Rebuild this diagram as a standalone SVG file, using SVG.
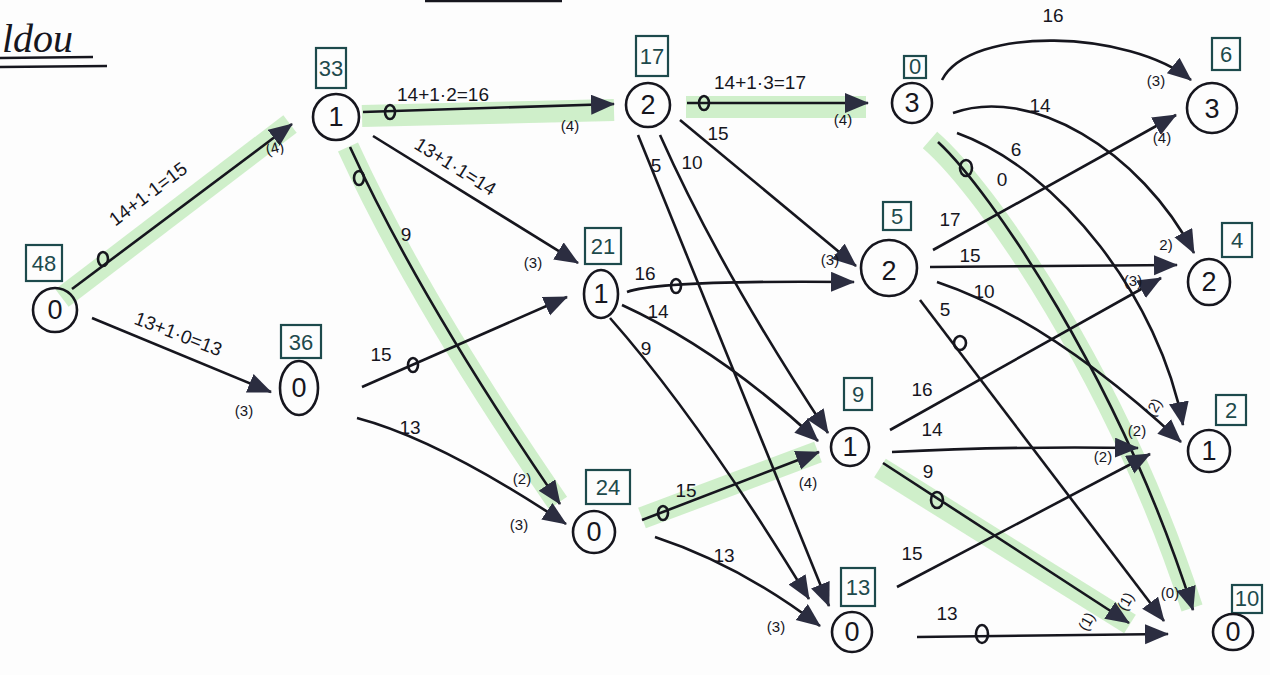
<svg xmlns="http://www.w3.org/2000/svg" width="1270" height="675" viewBox="0 0 1270 675">
<defs>
<marker id="ah" markerUnits="userSpaceOnUse" markerWidth="26" markerHeight="22" refX="23" refY="10" orient="auto">
<path d="M0,0 L24,10 L0,20 Z" fill="#2b2d40"/>
</marker>
<style>
.hl{fill:none;stroke:#bfeab8;stroke-width:22;opacity:0.75;stroke-linecap:butt}
.e{fill:none;stroke:#16161e;stroke-width:2.6;marker-end:url(#ah)}
.tk{fill:none;stroke:#16161e;stroke-width:2.6}
.nc{fill:none;stroke:#16161e;stroke-width:2.6}
.nt{font-family:"Liberation Sans",Arial,sans-serif;font-size:27px;fill:#16161e;text-anchor:middle}
.bx{fill:none;stroke:#1d4a4c;stroke-width:2.2}
.bt{font-family:"Liberation Sans",Arial,sans-serif;font-size:22px;fill:#1d4a4c;text-anchor:middle}
.lb{font-family:"Liberation Sans",Arial,sans-serif;font-size:19px;fill:#16161e;text-anchor:middle}
.sm{font-family:"Liberation Sans",Arial,sans-serif;font-size:15px;fill:#16161e;text-anchor:middle}
</style>
</defs>
<rect width="1270" height="675" fill="#fdfdfd"/>
<text x="2" y="52" font-family="Liberation Serif,serif" font-style="italic" font-size="40" fill="#16161e">ldou</text>
<line x1="0" y1="58" x2="93" y2="57" stroke="#16161e" stroke-width="2.6"/>
<line x1="0" y1="67" x2="107" y2="66" stroke="#16161e" stroke-width="2.6"/>
<line x1="425" y1="1" x2="562" y2="1" stroke="#16161e" stroke-width="2.6"/>

<g id="highlights">
<path class="hl" d="M62,298 L290,124"/>
<path class="hl" d="M362,116 L614,110"/>
<path class="hl" d="M348,147 Q418,300 558,503"/>
<path class="hl" d="M686,107 L866,107"/>
<path class="hl" d="M642,518 L818,452"/>
<path class="hl" d="M930,140 C988,190 1118,380 1192,608"/>
<path class="hl" d="M880,468 L1130,624"/>
</g>

<g id="connectors">
<!-- A->B -->
<path class="e" d="M72,289 L292,124"/>
<ellipse class="tk" cx="103" cy="259" rx="5" ry="7"/>
<text class="lb" transform="translate(152,199) rotate(-37)">14+1·1=15</text>
<text class="sm" transform="translate(276,153) rotate(-15)">(4)</text>
<!-- A->C -->
<path class="e" d="M92,318 L271,392"/>
<text class="lb" transform="translate(176,340) rotate(21)">13+1·0=13</text>
<text class="sm" x="244" y="416">(3)</text>
<!-- B->D -->
<path class="e" d="M363,112 L614,104"/>
<ellipse class="tk" cx="390" cy="112" rx="5" ry="7"/>
<text class="lb" x="443" y="101">14+1·2=16</text>
<text class="sm" x="570" y="131">(4)</text>
<!-- B->E -->
<path class="e" d="M373,136 L578,263"/>
<text class="lb" transform="translate(452,172) rotate(32)">13+1·1=14</text>
<text class="sm" x="533" y="268">(3)</text>
<!-- B->F -->
<path class="e" d="M350,147 Q420,300 560,504"/>
<ellipse class="tk" cx="359" cy="178" rx="5" ry="7"/>
<text class="lb" x="406" y="241">9</text>
<text class="sm" x="522" y="484">(2)</text>
<!-- C->E -->
<path class="e" d="M362,387 L567,297"/>
<ellipse class="tk" cx="413" cy="365" rx="5" ry="7"/>
<text class="lb" x="381" y="361">15</text>
<!-- C->F -->
<path class="e" d="M357,418 Q440,440 566,524"/>
<text class="lb" x="410" y="434">13</text>
<text class="sm" x="519" y="530">(3)</text>
<!-- D->G -->
<path class="e" d="M687,103 L868,103"/>
<ellipse class="tk" cx="704" cy="103" rx="5" ry="7"/>
<text class="lb" x="760" y="89">14+1·3=17</text>
<text class="sm" x="843" y="125">(4)</text>
<!-- D->H -->
<path class="e" d="M680,120 L856,266"/>
<text class="lb" x="718" y="140">15</text>
<text class="sm" x="830" y="265">(3)</text>
<!-- D->I -->
<path class="e" d="M660,135 Q720,270 828,433"/>
<text class="lb" x="692" y="169">10</text>
<!-- D->J -->
<path class="e" d="M638,135 L829,606"/>
<text class="lb" x="656" y="172">5</text>
<!-- E->H -->
<path class="e" d="M627,292 Q660,280 854,282"/>
<ellipse class="tk" cx="676" cy="286" rx="5" ry="7"/>
<text class="lb" x="645" y="280">16</text>
<!-- E->I -->
<path class="e" d="M622,305 Q720,350 818,441"/>
<text class="lb" x="658" y="318">14</text>
<!-- E->J -->
<path class="e" d="M610,318 Q700,420 809,599"/>
<text class="lb" x="646" y="355">9</text>
<!-- F->I -->
<path class="e" d="M642,520 L819,452"/>
<ellipse class="tk" cx="663" cy="513" rx="5" ry="7"/>
<text class="lb" x="686" y="497">15</text>
<text class="sm" x="808" y="488">(4)</text>
<!-- F->J -->
<path class="e" d="M655,537 Q740,565 820,626"/>
<text class="lb" x="724" y="562">13</text>
<text class="sm" x="776" y="632">(3)</text>
<!-- G->K -->
<path class="e" d="M942,80 C970,25 1130,30 1191,80"/>
<text class="lb" x="1053" y="22">16</text>
<text class="sm" x="1156" y="86">(3)</text>
<!-- G->L -->
<path class="e" d="M953,113 C1030,85 1140,150 1194,253"/>
<text class="lb" x="1040" y="112">14</text>
<text class="sm" x="1166" y="250">2)</text>
<!-- G->M -->
<path class="e" d="M957,133 C1060,170 1160,300 1183,425"/>
<text class="lb" x="1016" y="156">6</text>
<text class="sm" transform="translate(1158,410) rotate(-60)">(2)</text>
<!-- G->N -->
<path class="e" d="M938,142 C990,190 1120,380 1193,610"/>
<ellipse class="tk" cx="966" cy="168" rx="6" ry="8"/>
<text class="lb" x="1002" y="186">0</text>
<text class="sm" x="1170" y="598">(0)</text>
<!-- H->K -->
<path class="e" d="M933,250 L1176,115"/>
<text class="lb" x="950" y="226">17</text>
<text class="sm" x="1162" y="143">(4)</text>
<!-- H->L -->
<path class="e" d="M930,267 L1177,265"/>
<text class="lb" x="970" y="262">15</text>
<!-- H->M -->
<path class="e" d="M937,282 Q1050,320 1181,442"/>
<text class="lb" x="984" y="298">10</text>
<!-- H->N -->
<path class="e" d="M920,300 L1164,621"/>
<ellipse class="tk" cx="960" cy="343" rx="6" ry="7"/>
<text class="lb" x="945" y="316">5</text>
<text class="sm" transform="translate(1130,604) rotate(-60)">(1)</text>
<!-- I->L -->
<path class="e" d="M890,430 L1161,278"/>
<text class="lb" x="922" y="396">16</text>
<text class="sm" x="1133" y="286">(3)</text>
<!-- I->M -->
<path class="e" d="M892,452 Q1010,446 1138,448"/>
<text class="lb" x="932" y="436">14</text>
<text class="sm" x="1137" y="436">(2)</text>
<!-- I->N -->
<path class="e" d="M883,463 L1129,623"/>
<ellipse class="tk" cx="937" cy="500" rx="6" ry="8"/>
<text class="lb" x="928" y="478">9</text>
<text class="sm" transform="translate(1091,624) rotate(-60)">(1)</text>
<!-- J->M -->
<path class="e" d="M897,587 L1150,454"/>
<text class="lb" x="912" y="560">15</text>
<text class="sm" x="1103" y="462">(2)</text>
<!-- J->N -->
<path class="e" d="M917,637 L1168,634"/>
<ellipse class="tk" cx="982" cy="634" rx="6" ry="9"/>
<text class="lb" x="947" y="620">13</text>
</g>

<g id="node-A"><rect class="bx" x="26" y="245" width="36" height="36"/><text class="bt" x="44" y="271">48</text><circle class="nc" cx="55" cy="310" r="22"/><text class="nt" x="55" y="319">0</text></g>
<g id="node-B"><rect class="bx" x="316" y="48" width="30" height="40"/><text class="bt" x="331" y="76">33</text><circle class="nc" cx="336" cy="117" r="23"/><text class="nt" x="336" y="126">1</text></g>
<g id="node-C"><rect class="bx" x="281" y="325" width="40" height="33"/><text class="bt" x="301" y="350">36</text><ellipse class="nc" cx="299" cy="388" rx="19" ry="27"/><text class="nt" x="299" y="397">0</text></g>
<g id="node-D"><rect class="bx" x="636" y="36" width="32" height="40"/><text class="bt" x="652" y="64">17</text><circle class="nc" cx="648" cy="105" r="22"/><text class="nt" x="648" y="114">2</text></g>
<g id="node-E"><rect class="bx" x="585" y="228" width="36" height="36"/><text class="bt" x="603" y="254">21</text><ellipse class="nc" cx="601" cy="294" rx="17" ry="24"/><text class="nt" x="601" y="303">1</text></g>
<g id="node-F"><rect class="bx" x="586" y="470" width="44" height="34"/><text class="bt" x="608" y="495">24</text><circle class="nc" cx="594" cy="532" r="21"/><text class="nt" x="594" y="541">0</text></g>
<g id="node-G"><rect class="bx" x="904" y="56" width="22" height="22"/><text class="bt" x="915" y="74" font-size="17">0</text><circle class="nc" cx="912" cy="103" r="20"/><text class="nt" x="912" y="112">3</text></g>
<g id="node-H"><rect class="bx" x="883" y="202" width="28" height="28"/><text class="bt" x="897" y="224">5</text><circle class="nc" cx="889" cy="268" r="28"/><text class="nt" x="889" y="280" font-size="34">2</text></g>
<g id="node-I"><rect class="bx" x="844" y="378" width="28" height="32"/><text class="bt" x="858" y="402">9</text><circle class="nc" cx="850" cy="447" r="19"/><text class="nt" x="850" y="456">1</text></g>
<g id="node-J"><rect class="bx" x="841" y="568" width="34" height="38"/><text class="bt" x="858" y="595">13</text><circle class="nc" cx="852" cy="632" r="20"/><text class="nt" x="852" y="641">0</text></g>
<g id="node-K"><rect class="bx" x="1212" y="38" width="28" height="32"/><text class="bt" x="1226" y="62">6</text><circle class="nc" cx="1212" cy="108" r="25"/><text class="nt" x="1212" y="118" font-size="30">3</text></g>
<g id="node-L"><rect class="bx" x="1222" y="223" width="30" height="34"/><text class="bt" x="1237" y="248">4</text><ellipse class="nc" cx="1209" cy="282" rx="21" ry="23"/><text class="nt" x="1209" y="291">2</text></g>
<g id="node-M"><rect class="bx" x="1216" y="395" width="30" height="30"/><text class="bt" x="1231" y="418">2</text><circle class="nc" cx="1209" cy="451" r="21"/><text class="nt" x="1209" y="460">1</text></g>
<g id="node-N"><rect class="bx" x="1232" y="585" width="30" height="28"/><text class="bt" x="1247" y="606">10</text><ellipse class="nc" cx="1233" cy="632" rx="20" ry="18"/><text class="nt" x="1233" y="641">0</text></g>
</svg>
